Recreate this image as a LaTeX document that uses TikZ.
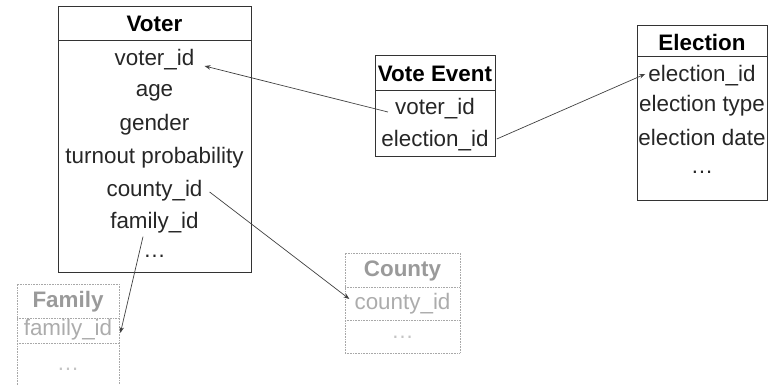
\documentclass[tikz,border=0pt]{standalone}
\usepackage{fontspec}
\setmainfont{Liberation Sans}
\usetikzlibrary{arrows.meta}
\definecolor{ghead}{HTML}{9A9A9A}
\definecolor{gtext}{HTML}{ACACAC}
\definecolor{gdots}{HTML}{C4C4C4}
\definecolor{gline}{HTML}{A8A8A8}
\begin{document}
\begin{tikzpicture}[x=1pt,y=-1pt,
  ebox/.style={draw=black!80,line width=0.8pt,inner sep=0pt,outer sep=0pt},
  gbox/.style={draw=gline,line width=0.6pt,dash pattern=on 0.8pt off 0.8pt,inner sep=0pt,outer sep=0pt},
  txt/.style={inner sep=0pt,font=\fontsize{22.4}{27}\selectfont,text=black!85},
  hdr/.style={txt,font=\fontsize{22.4}{27}\selectfont\bfseries,text=black},
  gtxt/.style={txt,text=gtext},
  ghdr/.style={hdr,text=ghead},
  gdot/.style={txt,text=gdots},
  arr/.style={draw=black!75,line width=0.7pt,-{Stealth[length=6pt,width=4.5pt]}},
  divl/.style={draw=black!80,line width=0.8pt},
  gdivl/.style={draw=gline,line width=0.6pt,dash pattern=on 0.8pt off 0.8pt}]
\useasboundingbox (0,0) rectangle (774,384);

% Voter
\node[ebox,minimum width=193pt,minimum height=266pt] (voterbox) at (154.5,139) {};
\draw[divl] ([yshift=-34pt]voterbox.north west) -- ([yshift=-34pt]voterbox.north east);
\node[hdr] (voterh) at (154.5,24) {Voter};
\node[txt] (vid) at (154.5,60) {voter\_id};
\node[txt] (vage) at (154.5,93) {age};
\node[txt] (vgen) at (154.5,125) {gender};
\node[txt] (vturn) at (154.5,158) {turnout probability};
\node[txt] (vcty) at (154.5,191) {county\_id};
\node[txt] (vfam) at (154.5,223) {family\_id};
\node[txt] (vdots) at (154.5,256) {…};

% Vote Event
\node[ebox,minimum width=120pt,minimum height=101pt] (evbox) at (435,105.5) {};
\draw[divl] ([yshift=-35pt]evbox.north west) -- ([yshift=-35pt]evbox.north east);
\node[hdr] (evh) at (435,74) {Vote Event};
\node[txt] (evv) at (435,109) {voter\_id};
\node[txt] (eve) at (435,141) {election\_id};

% Election
\node[ebox,minimum width=130pt,minimum height=175pt] (elbox) at (702,112.5) {};
\draw[divl] ([yshift=-31pt]elbox.north west) -- ([yshift=-31pt]elbox.north east);
\node[hdr] (elh) at (702,42) {Election};
\node[txt] (elid) at (702,76) {election\_id};
\node[txt] (eltype) at (702,106) {election type};
\node[txt] (eldate) at (702,137) {election date};
\node[txt] (eldots) at (702,172) {…};

% County
\node[gbox,minimum width=115pt,minimum height=100pt] (ctbox) at (402.5,303) {};
\draw[gdivl] ([yshift=-34pt]ctbox.north west) -- ([yshift=-34pt]ctbox.north east);
\draw[gdivl] ([yshift=-67pt]ctbox.north west) -- ([yshift=-67pt]ctbox.north east);
\node[ghdr] (cth) at (402.5,271) {County};
\node[gtxt] (ctid) at (402.5,304) {county\_id};
\node[gdot] (ctdots) at (402.5,337) {…};

% Family
\node[gbox,minimum width=102pt,minimum height=102pt] (fmbox) at (68,335) {};
\draw[gdivl] ([yshift=-34pt]fmbox.north west) -- ([yshift=-34pt]fmbox.north east);
\draw[gdivl] ([yshift=-59pt]fmbox.north west) -- ([yshift=-59pt]fmbox.north east);
\node[ghdr] (fmh) at (68,302) {Family};
\node[gtxt] (fmid) at (68,330) {family\_id};
\node[gdot] (fmdots) at (68,369) {…};

% connectors
\draw[arr] ([xshift=-7pt,yshift=-3pt]evv.west) -- ([xshift=10pt,yshift=-6pt]vid.east);
\draw[arr] ([xshift=8pt,yshift=2pt]eve.east) -- ([xshift=-3pt,yshift=2pt]elid.west);
\draw[arr] ([xshift=7pt,yshift=-1pt]vcty.east) -- ([xshift=-5pt,yshift=5pt]ctid.west);
\draw[arr] ([xshift=-11.5pt,yshift=-3pt]vfam.south) -- ([xshift=8pt,yshift=-3pt]fmid.east);
\end{tikzpicture}
\end{document}
